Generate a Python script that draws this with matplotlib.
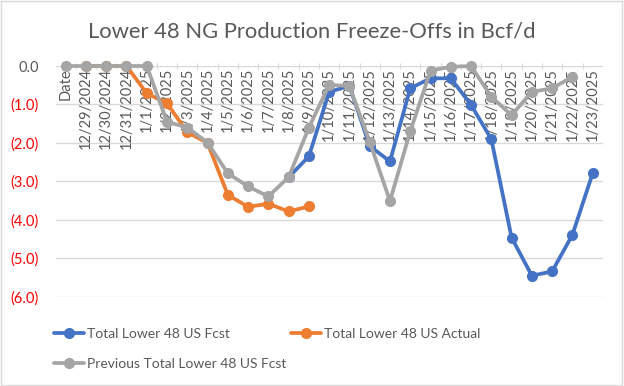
import numpy as np
import matplotlib.pyplot as plt

plt.rcParams['font.family'] = ['Lato', 'DejaVu Sans']

nan = np.nan
dates = ['Date', '12/29/2024', '12/30/2024', '12/31/2024'] + ['1/%d/2025' % d for d in range(1, 24)]

fcst = [nan, nan, nan, nan, nan, nan, nan, nan, nan, nan, nan, 2.89, 2.35,
        0.67, 0.52, 2.08, 2.48, 0.58, 0.32, 0.32, 1.01, 1.90, 4.46, 5.45, 5.34, 4.39, 2.79]
actual = [nan, 0, 0, 0, 0.71, 0.97, 1.72, 2.00, 3.35, 3.66, 3.58, 3.78, 3.65,
          nan, nan, nan, nan, nan, nan, nan, nan, nan, nan, nan, nan, nan, nan]
previous = [0, 0, 0, 0, 0, 1.45, 1.60, 1.99, 2.79, 3.13, 3.39, 2.89, 1.60,
            0.49, 0.52, 1.97, 3.51, 1.70, 0.12, 0.02, 0.0, 0.80, 1.28, 0.67, 0.58, 0.28, nan]

x = np.arange(len(dates))
fig = plt.figure(figsize=(6.24, 3.86), dpi=100)
ax = fig.add_axes([0.089, 0.231, 0.877, 0.598])

kw = dict(lw=2.7, marker='o', ms=7, clip_on=False, solid_capstyle='round')
ax.plot(x, -np.array(fcst), color='#4472C4', label='Total Lower 48 US Fcst', zorder=3, **kw)
ax.plot(x, -np.array(actual), color='#ED7D31', label='Total Lower 48 US Actual', zorder=4, **kw)
ax.plot(x, -np.array(previous), color='#A5A5A5', label='Previous Total Lower 48 US Fcst', zorder=5, **kw)

ax.set_xlim(-0.5, len(dates) - 0.5)
ax.set_ylim(-6, 0)
yt = np.arange(0, -7, -1)
ax.set_yticks(yt, ['0.0'] + ['(%.1f)' % -v for v in yt[1:]])
for lab, v in zip(ax.get_yticklabels(), yt):
    lab.set_color('#595959' if v == 0 else '#FF0000')
ax.tick_params(axis='y', length=0, labelsize=10.5, pad=12)
ax.grid(axis='y', color='#D9D9D9', lw=1)
for s in ax.spines.values():
    s.set_visible(False)

# category axis crosses at zero (top)
ax.xaxis.tick_top()
ax.set_xticks(x[:-1] + 0.5)
ax.tick_params(axis='x', direction='inout', length=5, color='#D9D9D9', labeltop=False)
for xi, d in zip(x, dates):
    ax.text(xi, -0.05, d, rotation=90, ha='center', va='top', fontsize=10.5,
            color='#595959', zorder=2)

fig.suptitle('Lower 48 NG Production Freeze-Offs in Bcf/d', y=0.918, va='center',
             fontsize=15.8, color='#595959')

h, l = ax.get_legend_handles_labels()
order = [0, 2, 1]
ax.legend([h[i] for i in order], [l[i] for i in order], ncol=2, frameon=False,
          loc='upper left', bbox_to_anchor=(-0.026, -0.08), fontsize=10, labelcolor='#595959',
          handlelength=2.2, handletextpad=0.2, columnspacing=0.3, labelspacing=1.3)

fig.patches.append(plt.Rectangle((0.002, 0.003), 0.995, 0.994, transform=fig.transFigure,
                                 fill=False, edgecolor='#D9D9D9', lw=1))
fig.savefig('out.png', dpi=100)
